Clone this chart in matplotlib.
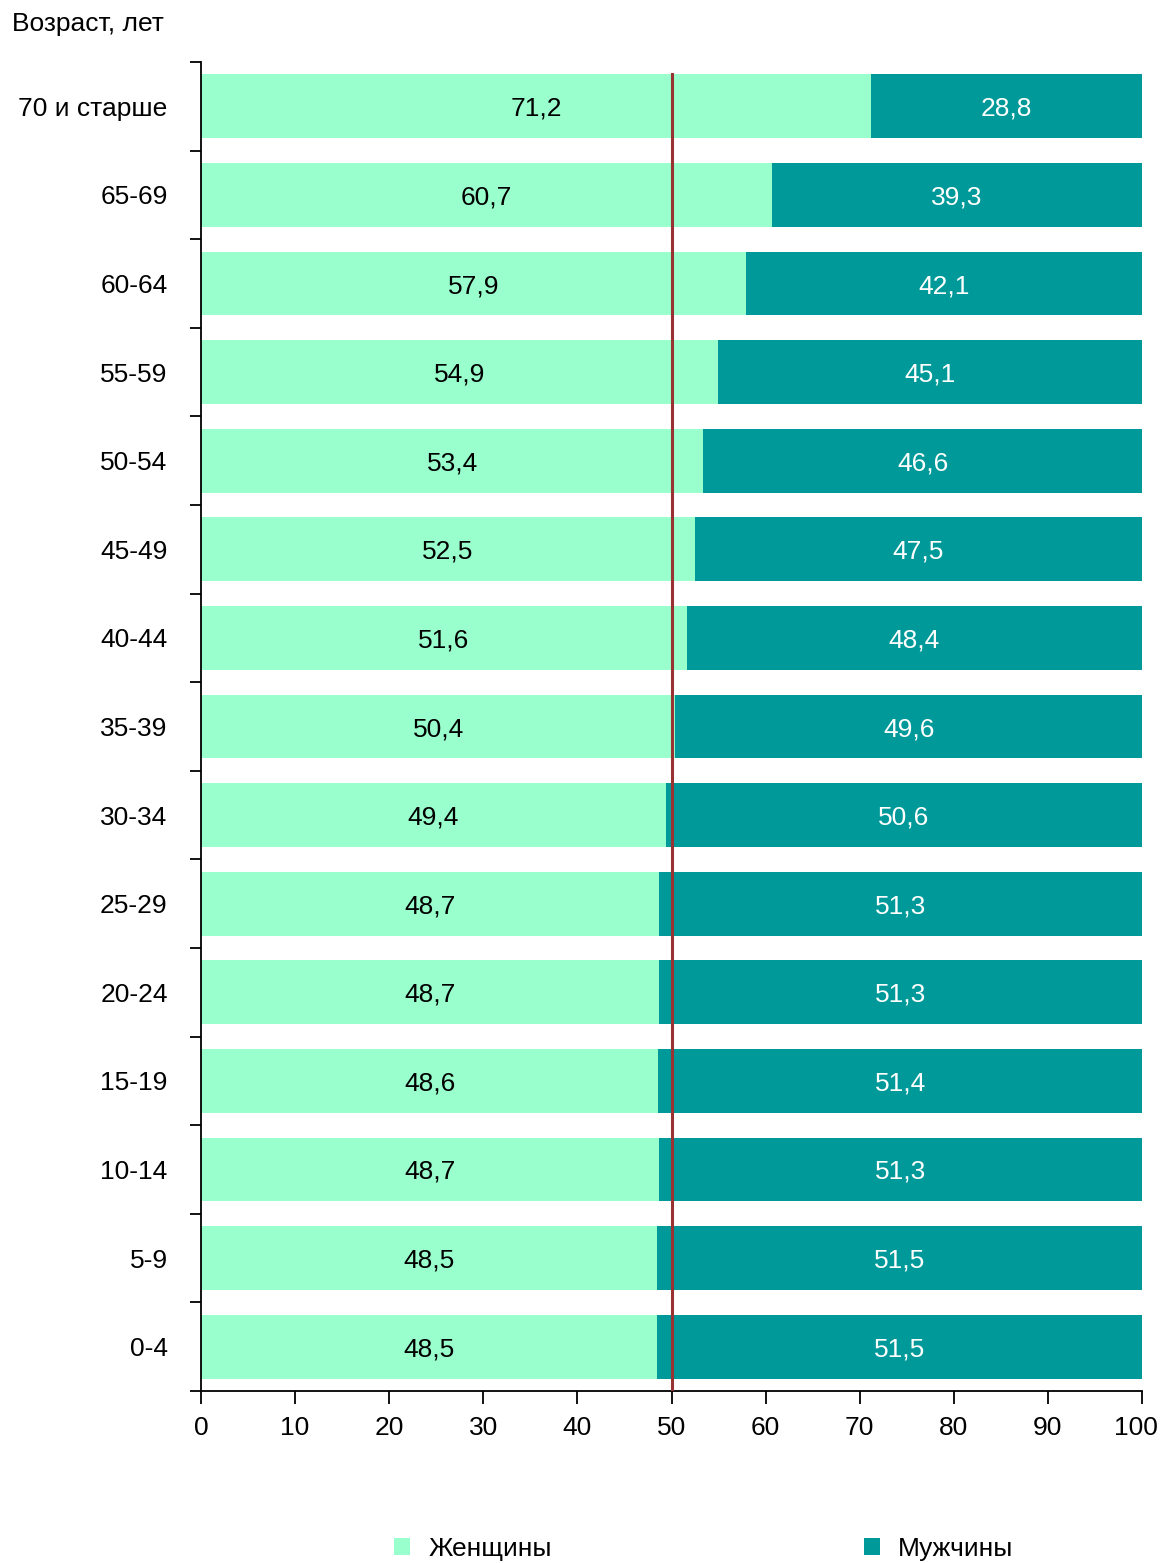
import matplotlib.pyplot as plt
import matplotlib.transforms as mtransforms
import numpy as np

plt.rcParams['font.family'] = ['Liberation Sans', 'DejaVu Sans']

# age groups, bottom to top
ages = ['0-4', '5-9', '10-14', '15-19', '20-24', '25-29', '30-34', '35-39',
        '40-44', '45-49', '50-54', '55-59', '60-64', '65-69', '70 и старше']
women = [48.5, 48.5, 48.7, 48.6, 48.7, 48.7, 49.4, 50.4,
         51.6, 52.5, 53.4, 54.9, 57.9, 60.7, 71.2]
men = [51.5, 51.5, 51.3, 51.4, 51.3, 51.3, 50.6, 49.6,
       48.4, 47.5, 46.6, 45.1, 42.1, 39.3, 28.8]
xticks = [0, 10, 20, 30, 40, 50, 60, 70, 80, 90, 100]

c_women = '#99FFCC'
c_men = '#009999'
fs = 19

fig = plt.figure(figsize=(11.61, 15.63), dpi=100)
ax = fig.add_axes([201 / 1161, 1 - 1391 / 1563, (1142 - 201) / 1161, (1391 - 62) / 1563])

y = np.arange(len(ages))
h = 0.72
b1 = ax.barh(y, women, height=h, color=c_women, label='Женщины')
b2 = ax.barh(y, men, left=women, height=h, color=c_men, label='Мужчины')

def fmt(v):
    return f'{v:.1f}'.replace('.', ',')

for i in range(len(ages)):
    ax.text(women[i] / 2, y[i], fmt(women[i]), ha='center', va='center_baseline',
            fontsize=fs, color='black')
    ax.text(women[i] + men[i] / 2, y[i], fmt(men[i]), ha='center', va='center_baseline',
            fontsize=fs, color='white')

# 50% reference line
ax.plot([50, 50], [-0.5, y[-1] + h / 2], color='#993333', linewidth=2.2, zorder=5)

ax.set_xlim(0, 100)
ax.set_ylim(-0.5, len(ages) - 0.5)
ax.set_xticks(xticks)
ax.set_xticklabels([str(t) for t in xticks], fontsize=fs)
ax.set_yticks(y)
ax.set_yticklabels(ages, fontsize=fs, va='center_baseline')
ax.set_yticks(np.arange(-0.5, len(ages), 1), minor=True)
ax.tick_params(axis='y', which='major', length=0, pad=24)
ax.tick_params(axis='y', which='minor', length=8, width=1.3, direction='out')
ax.tick_params(axis='x', length=9, width=1.3, direction='out', pad=9)

# keep the last tick label inside the figure
last = ax.get_xticklabels()[-1]
last.set_transform(last.get_transform() +
                   mtransforms.ScaledTranslation(-6 / 100, 0, fig.dpi_scale_trans))

for s in ['top', 'right']:
    ax.spines[s].set_visible(False)
for s in ['left', 'bottom']:
    ax.spines[s].set_linewidth(1.3)

fig.text(12 / 1161, 1 - 24 / 1563, 'Возраст, лет', fontsize=fs, ha='left', va='center')

leg_y = 1 - 1549 / 1563
for handle, x0 in [(b1, 394 / 1161), (b2, 864 / 1161)]:
    fig.legend(handles=[handle], loc='center left', bbox_to_anchor=(x0, leg_y),
               frameon=False, fontsize=fs, handlelength=0.62, handleheight=0.62,
               handletextpad=0.68, borderaxespad=0, borderpad=0)

fig.savefig('out.png', dpi=100)
